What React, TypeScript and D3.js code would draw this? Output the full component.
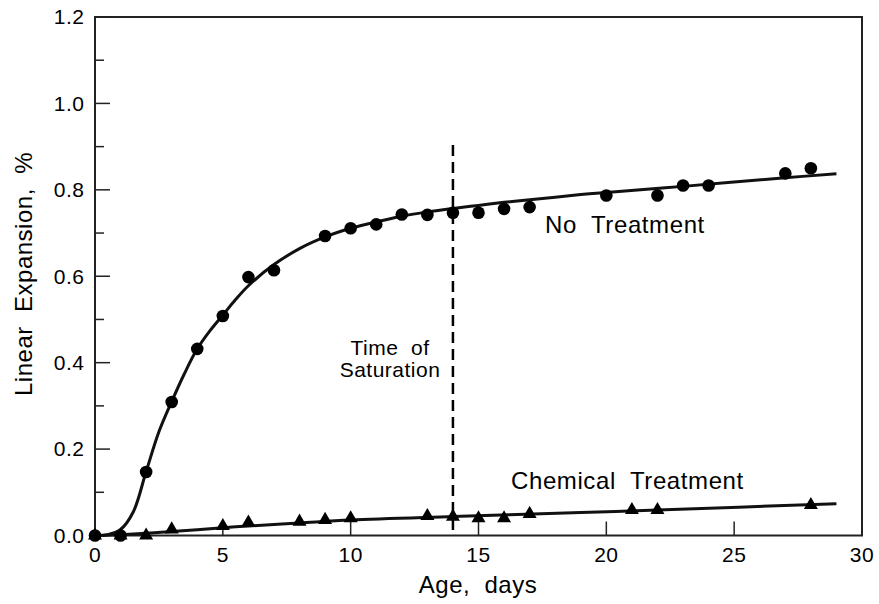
import React from "react";
import * as d3 from "d3";

// Measured points
const noTreatDays = [0, 1, 2, 3, 4, 5, 6, 7, 9, 10, 11, 12, 13, 14, 15, 16, 17, 20, 22, 23, 24, 27, 28];
const noTreatValues = [0, 0, 0.147, 0.309, 0.432, 0.508, 0.598, 0.614, 0.693, 0.711, 0.72, 0.743, 0.742, 0.747, 0.747, 0.756, 0.76, 0.787, 0.787, 0.81, 0.81, 0.838, 0.85];
const chemDays = [0, 1, 2, 3, 5, 6, 8, 9, 10, 13, 14, 15, 16, 17, 21, 22, 28];
const chemValues = [0, 0, 0, 0.014, 0.022, 0.03, 0.032, 0.036, 0.04, 0.045, 0.0435, 0.04, 0.04, 0.05, 0.059, 0.059, 0.0706];

// Fitted curves
const noTreatFitDays = [0, 0.5, 1, 1.5, 2, 2.5, 3, 3.5, 4, 4.5, 5, 5.5, 6, 7, 8, 9, 10, 11, 12, 13, 14, 15, 16, 17, 19, 20, 23, 27, 29];
const noTreatFitValues = [0, 0.002, 0.014, 0.055, 0.148, 0.24, 0.31, 0.375, 0.432, 0.474, 0.51, 0.546, 0.578, 0.627, 0.664, 0.691, 0.711, 0.726, 0.739, 0.749, 0.757, 0.764, 0.771, 0.777, 0.789, 0.794, 0.808, 0.828, 0.837];
const chemFitDays = [0, 1, 2, 3, 5, 6, 8, 10, 14, 19, 22, 29];
const chemFitValues = [0, 0.002, 0.005, 0.009, 0.018, 0.022, 0.029, 0.036, 0.044, 0.053, 0.059, 0.0736];

const xTicks = [0, 5, 10, 15, 20, 25, 30];
const yTicks = [0, 0.2, 0.4, 0.6, 0.8, 1.0, 1.2];
const yMinorTicks = [0.1, 0.3, 0.5, 0.7, 0.9, 1.1];
const saturationDay = 14;

const W = 879;
const H = 604;
const left = 95;
const right = 862;
const top = 17;
const bottom = 535.5;
const font = "'Liberation Sans', Arial, Helvetica, sans-serif";

export default function App() {
  const x = d3.scaleLinear().domain([0, 30]).range([left, right]);
  const y = d3.scaleLinear().domain([0, 1.2]).range([bottom, top]);
  const line = d3
    .line<[number, number]>()
    .x((d) => x(d[0]))
    .y((d) => y(d[1]))
    .curve(d3.curveCatmullRom.alpha(0.5));
  const ntFit = noTreatFitDays.map((d, i) => [d, noTreatFitValues[i]] as [number, number]);
  const chFit = chemFitDays.map((d, i) => [d, chemFitValues[i]] as [number, number]);
  const tri = d3.symbol().type(d3.symbolTriangle).size(85)();

  return (
    <div style={{ position: "absolute", left: 0, top: 0 }}>
      <svg width={W} height={H} style={{ display: "block", background: "#fff" }} fontFamily={font}>
        <rect x={0} y={0} width={W} height={H} fill="#fff" />
        {/* frame */}
        <rect x={left} y={top} width={right - left} height={bottom - top} fill="none" stroke="#222" strokeWidth={2} />
        {/* y ticks */}
        {yTicks.map((t) => (
          <g key={"y" + t}>
            <line x1={left} x2={left + 15} y1={y(t)} y2={y(t)} stroke="#222" strokeWidth={1.5} />
            <text x={84.5} y={y(t)} dy="0.35em" textAnchor="end" fontSize={21} letterSpacing={0.5} fill="#000">
              {t.toFixed(1)}
            </text>
          </g>
        ))}
        {yMinorTicks.map((t) => (
          <line key={"ym" + t} x1={left} x2={left + 9} y1={y(t)} y2={y(t)} stroke="#222" strokeWidth={1.5} />
        ))}
        {/* x ticks */}
        {xTicks.map((t) => (
          <g key={"x" + t}>
            <line x1={x(t)} x2={x(t)} y1={bottom} y2={bottom - 14} stroke="#222" strokeWidth={1.5} />
            <text x={x(t)} y={562} textAnchor="middle" fontSize={21} letterSpacing={0.5} fill="#000">
              {t}
            </text>
          </g>
        ))}
        {/* axis titles */}
        <text x={478} y={593} textAnchor="middle" fontSize={24} letterSpacing={0.5} fill="#000" style={{ whiteSpace: "pre" }}>
          {"Age,  days"}
        </text>
        <text
          transform={`translate(31.5,274) rotate(-90)`}
          textAnchor="middle"
          fontSize={24}
          letterSpacing={0.5}
          fill="#000"
          style={{ whiteSpace: "pre" }}
        >
          {"Linear  Expansion,  %"}
        </text>
        {/* saturation line */}
        <line
          x1={x(saturationDay)}
          x2={x(saturationDay)}
          y1={145}
          y2={bottom}
          stroke="#000"
          strokeWidth={2.5}
          strokeDasharray="11,6"
        />
        <text x={390} y={355} textAnchor="middle" fontSize={21} letterSpacing={0.5} fill="#000" style={{ whiteSpace: "pre" }}>
          {"Time  of"}
        </text>
        <text x={390} y={377} textAnchor="middle" fontSize={21} letterSpacing={0.5} fill="#000">
          Saturation
        </text>
        {/* curves */}
        <path d={line(ntFit) || ""} fill="none" stroke="#111" strokeWidth={3} />
        <path d={line(chFit) || ""} fill="none" stroke="#111" strokeWidth={3} />
        {/* markers */}
        {noTreatDays.map((d, i) => (
          <circle key={"c" + i} cx={x(d)} cy={y(noTreatValues[i])} r={6.3} fill="#000" />
        ))}
        {chemDays.map((d, i) => (
          <path key={"t" + i} d={tri || ""} transform={`translate(${x(d)},${y(chemValues[i])})`} fill="#000" />
        ))}
        {/* labels */}
        <text x={545} y={233} fontSize={24} letterSpacing={0.6} fill="#000" style={{ whiteSpace: "pre" }}>
          {"No  Treatment"}
        </text>
        <text x={511} y={489} fontSize={24} letterSpacing={0.6} fill="#000" style={{ whiteSpace: "pre" }}>
          {"Chemical  Treatment"}
        </text>
      </svg>
    </div>
  );
}
